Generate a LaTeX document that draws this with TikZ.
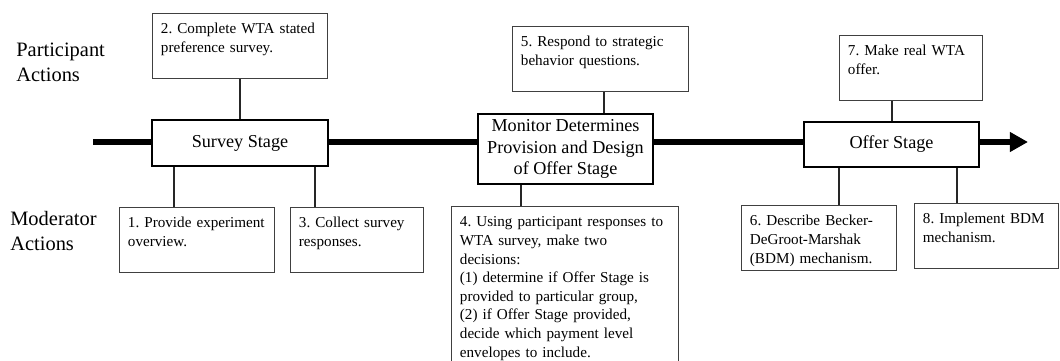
\documentclass[tikz,border=0pt]{standalone}
\usepackage{fontspec}
\setmainfont{Liberation Serif}
\usetikzlibrary{arrows.meta}
\frenchspacing
\hyphenpenalty=10000
\exhyphenpenalty=10000
\tikzset{
    stage/.style = {rectangle, draw=black, line width=0.9pt, fill=white, font=\large, align=center, inner sep=2pt},
    action/.style = {rectangle, draw=black!75, line width=0.8pt, fill=white, anchor=north west, align=left,
        text width=#1, inner xsep=5.5pt, inner ysep=3pt, text height=10.3pt, text depth=26.5pt,
        font=\fontsize{10}{12.3}\selectfont},
    side/.style = {anchor=north west, align=left, inner sep=0pt, font=\fontsize{13.5}{16.5}\selectfont},
    link/.style = {line width=0.8pt, draw=black!85},
    timeline/.style = {line width=4pt, -{Triangle[length=12pt, width=12.5pt]}}
}

\begin{document}
\begin{tikzpicture}[x=0.66pt, y=-0.66pt]
    \useasboundingbox (0,0) rectangle (1060,361);
    \clip (0,0) rectangle (1060,361);

    % Timeline
    \coordinate (tlstart) at (93,142);
    \coordinate (tlend) at (1028,142);
    \draw [timeline] (tlstart) -- (tlend);

    % Row labels
    \node (partlabel) [side] at (16,42.5) {Participant\\Actions};
    \node (modlabel) [side] at (10,211) {Moderator\\Actions};

    % Stages
    \node (survey) [stage, minimum width=116pt, minimum height=30.4pt] at (240,143) {Survey Stage};
    \node (monitor) [stage, line width=1.2pt, minimum width=115.5pt, minimum height=46.2pt] at (565.5,149) {Monitor Determines\\Provision and Design\\of Offer Stage};
    \node (offer) [stage, minimum width=115.5pt, minimum height=29.7pt] at (891.5,144.5) {Offer Stage};

    % Participant actions
    \node (complete) [action=104.4pt] at (152,13) {2. Complete WTA stated\\preference survey.};
    \node (respond) [action=105pt] at (512,26) {5. Respond to strategic\\behavior questions.};
    \node (makeoffer) [action=83.2pt] at (839,35) {7. Make real WTA\\offer.};

    % Moderator actions
    \node (overview) [action=91.2pt] at (119,207) {1. Provide experiment\\overview.};
    \node (collect) [action=76.6pt] at (290,207) {3. Collect survey\\responses.};
    \node (decide) [action=138.7pt, text depth=96pt] at (451,206) {4. Using participant responses to\\WTA survey, make two\\decisions:\\(1) determine if Offer Stage is\\provided to particular group,\\(2) if Offer Stage provided,\\decide which payment level\\envelopes to include.};
    \node (describe) [action=91.2pt] at (741,205) {6. Describe Becker-\\DeGroot-Marshak\\(BDM) mechanism.};
    \node (implement) [action=83.9pt] at (914,203) {8. Implement BDM\\mechanism.};

    % Links
    \draw [link] (complete.south) -- (complete.south |- survey.north);
    \draw [link] (174,0 |- overview.north) -- (174,0 |- survey.south);
    \draw [link] (315,0 |- collect.north) -- (315,0 |- survey.south);
    \draw [link] (604,0 |- respond.south) -- (604,0 |- monitor.north);
    \draw [link] (521,0 |- decide.north) -- (521,0 |- monitor.south);
    \draw [link] (892,0 |- makeoffer.south) -- (892,0 |- offer.north);
    \draw [link] (839,0 |- describe.north) -- (839,0 |- offer.south);
    \draw [link] (957,0 |- implement.north) -- (957,0 |- offer.south);
\end{tikzpicture}
\end{document}
